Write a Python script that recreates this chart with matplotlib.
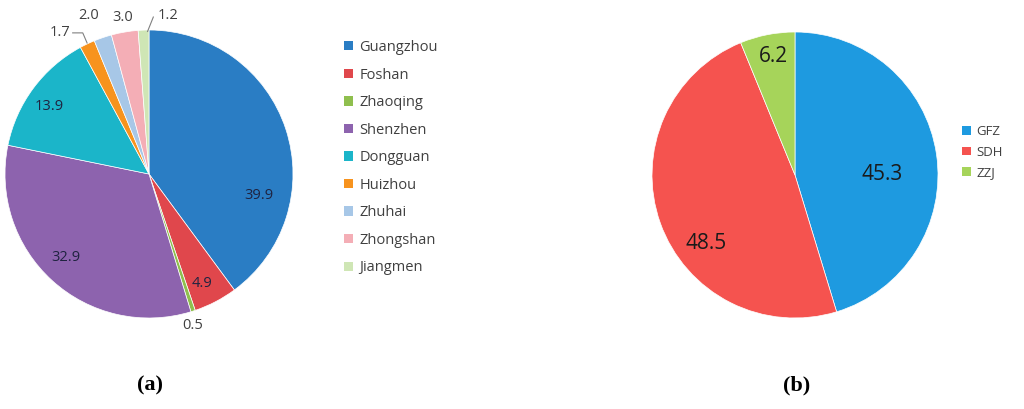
import matplotlib
matplotlib.use("Agg")
import matplotlib.pyplot as plt
from matplotlib.patches import Patch

plt.rcParams['font.family'] = ['Open Sans', 'DejaVu Sans']

# ---- data ----
cities = ["Guangzhou", "Foshan", "Zhaoqing", "Shenzhen", "Dongguan",
          "Huizhou", "Zhuhai", "Zhongshan", "Jiangmen"]
city_values = [39.9, 4.9, 0.5, 32.9, 13.9, 1.7, 2.0, 3.0, 1.2]
city_colors = ["#2a7dc4", "#e0474c", "#8fbf4e", "#8d63ae", "#1bb5c9",
               "#f7931e", "#a7c7e7", "#f4aeb6", "#cfe6b5"]
# label positions (in pie-radius units, relative to centre)
city_label_pos = [(0.76, -0.15), (0.37, -0.76), (0.30, -1.05), (-0.58, -0.58),
                  (-0.69, 0.47), (-0.62, 0.98), (-0.42, 1.10), (-0.18, 1.09),
                  (0.13, 1.10)]
city_label_inside = [True, True, False, True, True, False, False, False, False]

groups = ["GFZ", "SDH", "ZZJ"]
group_values = [45.3, 48.5, 6.2]
group_colors = ["#1e9ae0", "#f5534f", "#a6d45a"]
group_label_pos = [(0.61, 0.0), (-0.62, -0.48), (-0.15, 0.83)]

W, H = 1024, 409
fig = plt.figure(figsize=(W / 100, H / 100), dpi=100)
fig.patch.set_facecolor("white")


def px_axes(cx, cy, r):
    return fig.add_axes([(cx - r) / W, (H - cy - r) / H, 2 * r / W, 2 * r / H])


# ---- pie (a) ----
axa = px_axes(149, 174, 144)
axa.pie(city_values, colors=city_colors, startangle=90, counterclock=False,
        radius=1, wedgeprops=dict(linewidth=0.5, edgecolor="white"))
axa.set_xlim(-1, 1)
axa.set_ylim(-1, 1)
axa.set_aspect("equal")
axa.axis("off")
for v, (x, y), inside in zip(city_values, city_label_pos, city_label_inside):
    axa.text(x, y, f"{v:.1f}", ha="center", va="center", fontsize=10.5,
             color="#1f2340" if inside else "#404040", clip_on=False)
# leader lines for small labels
axa.plot([-0.53, -0.46, -0.43], [0.98, 0.98, 0.91], color="#808080", lw=0.8, clip_on=False)
axa.plot([0.03, -0.01], [1.09, 0.99], color="#808080", lw=0.8, clip_on=False)

fig.legend(handles=[Patch(facecolor=c, edgecolor="none") for c in city_colors],
           labels=cities, loc="upper left", bbox_to_anchor=(344 / W, 1 - 40 / H),
           frameon=False, fontsize=10.5, handlelength=0.6, handleheight=0.6,
           handletextpad=0.45, labelspacing=0.86, labelcolor="#404040",
           borderaxespad=0, borderpad=0)

# ---- pie (b) ----
axb = px_axes(795, 175, 143)
axb.pie(group_values, colors=group_colors, startangle=90, counterclock=False,
        radius=1, wedgeprops=dict(linewidth=0.5, edgecolor="white"))
axb.set_xlim(-1, 1)
axb.set_ylim(-1, 1)
axb.set_aspect("equal")
axb.axis("off")
for v, (x, y) in zip(group_values, group_label_pos):
    axb.text(x, y, f"{v:.1f}", ha="center", va="center", fontsize=15,
             color="#1a1a1a", clip_on=False)

fig.legend(handles=[Patch(facecolor=c, edgecolor="none") for c in group_colors],
           labels=groups, loc="upper left", bbox_to_anchor=(962 / W, 1 - 125 / H),
           frameon=False, fontsize=9.5, handlelength=0.65, handleheight=0.65,
           handletextpad=0.45, labelspacing=0.58, labelcolor="#404040",
           borderaxespad=0, borderpad=0)

# ---- panel captions ----
fig.text(150 / W, 1 - 385 / H, "(a)", ha="center", va="center", fontsize=16,
         fontweight="bold", family="Liberation Serif")
fig.text(797 / W, 1 - 385 / H, "(b)", ha="center", va="center", fontsize=16,
         fontweight="bold", family="Liberation Serif")

fig.savefig("out.png", dpi=100, facecolor="white")
